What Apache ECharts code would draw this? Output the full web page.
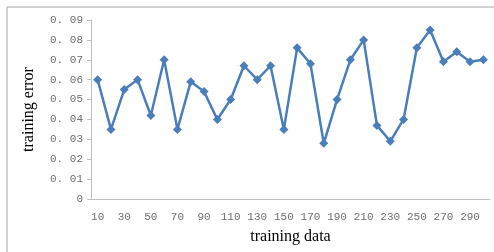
<!DOCTYPE html>
<html>
<head>
    <meta charset="utf-8">
    <script src="https://cdn.jsdelivr.net/npm/echarts@6/dist/echarts.min.js"></script>
</head>
<body style="margin:0">
<div id="main" style="width: 494px;height:252px;"></div>
<script type="text/javascript">
// training data sizes (x categories)
var categories = ['10','20','30','40','50','60','70','80','90','100',
    '110','120','130','140','150','160','170','180','190','200',
    '210','220','230','240','250','260','270','280','290','300'];
// training error values
var errors = [0.060, 0.035, 0.055, 0.060, 0.042, 0.070, 0.035, 0.059, 0.054, 0.040,
    0.050, 0.067, 0.060, 0.067, 0.035, 0.076, 0.068, 0.028, 0.050, 0.070,
    0.080, 0.037, 0.029, 0.040, 0.076, 0.085, 0.069, 0.074, 0.069, 0.070];
// y tick labels as printed
var yTicks = ['0', '0. 01', '0. 02', '0. 03', '0. 04', '0. 05', '0. 06', '0. 07', '0. 08', '0. 09'];

var chart = echarts.init(document.getElementById('main'));

var option = {
    backgroundColor: '#fff',
    animation: false,
    graphic: [{
        type: 'rect',
        shape: { x: 7, y: 7, width: 520, height: 280 },
        style: { fill: 'none', stroke: '#a6a6a6', lineWidth: 1 }
    }],
    grid: { left: 91, right: 4, top: 20, bottom: 53 },
    xAxis: {
        type: 'category',
        data: categories,
        boundaryGap: true,
        name: 'training data',
        nameLocation: 'middle',
        nameGap: 30,
        nameTextStyle: { fontFamily: 'Liberation Serif', fontSize: 16, color: '#000' },
        axisLine: { lineStyle: { color: '#bfbfbf', width: 1 } },
        axisTick: { show: false },
        axisLabel: {
            interval: 1,
            margin: 13,
            fontFamily: 'Liberation Mono',
            fontSize: 11,
            color: '#6e6e6e'
        }
    },
    yAxis: {
        type: 'value',
        min: 0,
        max: 0.09,
        interval: 0.01,
        name: 'training error',
        nameLocation: 'middle',
        nameRotate: 90,
        nameGap: 54,
        nameTextStyle: { fontFamily: 'Liberation Serif', fontSize: 16, color: '#000' },
        axisLine: { show: true, lineStyle: { color: '#bfbfbf', width: 1 } },
        axisTick: { show: true, length: 4, lineStyle: { color: '#bfbfbf' } },
        splitLine: { show: false },
        axisLabel: {
            margin: 8,
            fontFamily: 'Liberation Mono',
            fontSize: 11,
            color: '#6e6e6e',
            formatter: function (v) {
                return yTicks[Math.round(v * 100)];
            }
        }
    },
    series: [{
        type: 'line',
        data: errors,
        symbol: 'diamond',
        symbolSize: 9,
        showAllSymbol: true,
        lineStyle: { color: '#4a7ebb', width: 2.5 },
        itemStyle: { color: '#4a7ebb' }
    }]
};
chart.setOption(option);
</script>
</body>
</html>
